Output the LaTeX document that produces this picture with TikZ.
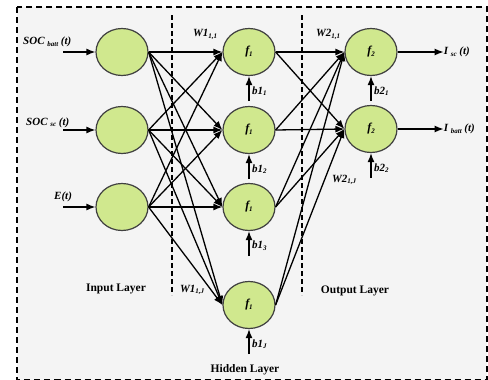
\documentclass[tikz,border=0pt]{standalone}
\usepackage{fontspec}
\setmainfont{Liberation Serif}
\usetikzlibrary{calc}
\usetikzlibrary{arrows.meta}
\usetikzlibrary{shapes.geometric}

\definecolor{cellgreen}{RGB}{208,232,142}
\definecolor{panelgray}{RGB}{244,244,244}
\newcommand{\lowsub}[1]{\raisebox{-0.35ex}{\fontsize{7}{7}\selectfont #1}}

\begin{document}
\begin{tikzpicture}[x=1pt,y=-1pt,
  neuron/.style={ellipse,draw=black!75,line width=1.2pt,fill=cellgreen,minimum width=52pt,minimum height=47pt,inner sep=0pt,font=\fontsize{12}{14}\selectfont\bfseries\itshape},
  wire/.style={line width=1.3pt,-{Latex[length=9pt,width=7pt]}},
  lbl/.style={font=\fontsize{11}{13}\selectfont\bfseries\itshape,inner sep=0pt},
  layer/.style={font=\fontsize{11.5}{13}\selectfont\bfseries,inner sep=0pt},
  sep/.style={line width=1.5pt,dash pattern=on 5pt off 3pt}]
\useasboundingbox (0,0) rectangle (488,380);
\draw[sep,fill=panelgray,dash pattern=on 6pt off 4pt] (17,7) rectangle (487,379.5);

\draw[sep] (172,15) -- (172,295);
\draw[sep] (302,15) -- (302,295);

% neurons
\foreach \y [count=\i] in {52,130,207} \node[neuron] (in\i) at (122,\y) {};
\foreach \y [count=\i] in {52,130,207,305} \node[neuron] (h\i) at (249,\y) {f\lowsub{1}};
\foreach \y [count=\i] in {52,129} \node[neuron] (o\i) at (371,\y) {f\lowsub{2}};

% weights
\foreach \i in {1,2,3} \foreach \j in {1,...,4} \draw[wire] (in\i.east) -- (h\j.west);
\foreach \j in {1,...,4} \foreach \k in {1,2} \draw[wire] (h\j.east) -- (o\k.west);

% inputs
\foreach \i in {1,2,3} {
  \coordinate (x\i) at ($(in\i.west)+(-32,0)$);
  \draw[wire] (x\i) -- (in\i.west);
}
\node[lbl,anchor=base west] (lx1) at (23,45) {SOC \lowsub{batt} (t)};
\node[lbl,anchor=base west] (lx2) at (26,125) {SOC \lowsub{sc} (t)};
\node[lbl,anchor=base west] (lx3) at (54,199) {E(t)};

% outputs
\foreach \k in {1,2} {
  \coordinate (y\k) at ($(o\k.east)+(46,0)$);
  \draw[wire] (o\k.east) -- (y\k);
}
\node[lbl,anchor=west] (ly1) at (y1) {I \lowsub{sc} (t)};
\node[lbl,anchor=west] (ly2) at (y2) {I \lowsub{batt} (t)};

% biases
\foreach \j/\n in {1/1,2/2,3/3,4/J} {
  \coordinate (bh\j) at ($(h\j.south)+(0,25)$);
  \draw[wire] (bh\j) -- (h\j.south);
  \node[lbl,anchor=west] (lbh\j) at ($(bh\j)+(3,-10)$) {b1\lowsub{\n}};
}
\foreach \k in {1,2} {
  \coordinate (bo\k) at ($(o\k.south)+(0,25)$);
  \draw[wire] (bo\k) -- (o\k.south);
  \node[lbl,anchor=west] (lbo\k) at ($(bo\k)+(3,-10)$) {b2\lowsub{\k}};
}

\node[lbl,anchor=base west] (w11) at (193,37) {W1\lowsub{1,1}};
\node[lbl,anchor=base west] (w1j) at (180,292) {W1\lowsub{1,J}};
\node[lbl,anchor=base west] (w21) at (316,37) {W2\lowsub{1,1}};
\node[lbl,anchor=base west] (w2j) at (332,182) {W2\lowsub{1,J}};

\node[layer] (inl) at (116,289) {Input Layer};
\node[layer] (outl) at (355,291) {Output Layer};
\node[layer] (hidl) at (245,370) {Hidden Layer};
\end{tikzpicture}
\end{document}
